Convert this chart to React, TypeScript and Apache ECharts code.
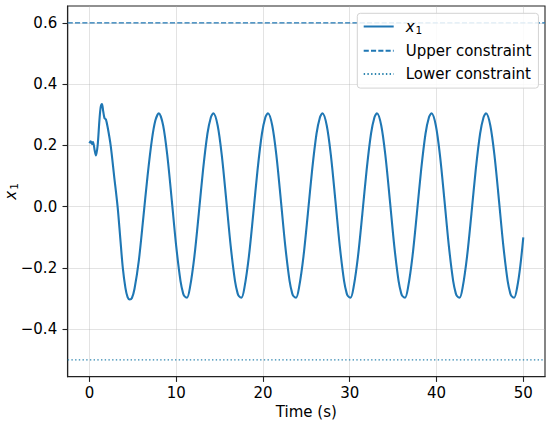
import React, { useEffect, useRef } from "react";
import * as echarts from "echarts";

// time samples (s)
const timeS = [
  0, 0.15, 0.3, 0.42, 0.6, 0.75, 0.95, 1.15, 1.3, 1.45, 1.6, 1.75, 1.9, 2.1, 2.45, 2.85, 3.25, 3.55, 3.85, 4.15, 4.4, 4.65, 4.9,
  5.2, 5.7, 6.2, 6.7, 7.2, 7.6,
  8.0, 8.5, 9.0, 9.5, 10.0, 10.5, 10.8, 10.95, 11.25, 11.6, 12.1, 12.6, 13.1, 13.6, 14.0,
  14.28, 14.78, 15.28, 15.78, 16.28, 16.78, 17.08, 17.23, 17.53, 17.88, 18.38, 18.88, 19.38, 19.88, 20.28,
  20.57, 21.07, 21.57, 22.07, 22.57, 23.07, 23.37, 23.52, 23.82, 24.17, 24.67, 25.17, 25.67, 26.17, 26.57,
  26.85, 27.35, 27.85, 28.35, 28.85, 29.35, 29.65, 29.8, 30.1, 30.45, 30.95, 31.45, 31.95, 32.45, 32.85,
  33.13, 33.63, 34.13, 34.63, 35.13, 35.63, 35.93, 36.08, 36.38, 36.73, 37.23, 37.73, 38.23, 38.73, 39.13,
  39.42, 39.92, 40.42, 40.92, 41.42, 41.92, 42.22, 42.37, 42.67, 43.02, 43.52, 44.02, 44.52, 45.02, 45.42,
  45.7, 46.2, 46.7, 47.2, 47.7, 48.2, 48.5, 48.65, 48.95, 49.3, 49.65, 50.0,
];

// x1 state values
const x1Values = [
  0.207, 0.213, 0.205, 0.211, 0.185, 0.167, 0.2, 0.28, 0.325, 0.335, 0.31, 0.288, 0.285, 0.26, 0.2, 0.1, 0.0, -0.1, -0.2, -0.265, -0.295, -0.303, -0.298,
  -0.268, -0.175, -0.04, 0.1, 0.218, 0.281,
  0.305, 0.265, 0.162, 0.019, -0.128, -0.243, -0.283, -0.292, -0.297, -0.262, -0.162, -0.024, 0.121, 0.238, 0.292,
  0.305, 0.265, 0.162, 0.019, -0.128, -0.243, -0.283, -0.292, -0.297, -0.262, -0.162, -0.024, 0.121, 0.238, 0.292,
  0.305, 0.265, 0.162, 0.019, -0.128, -0.243, -0.283, -0.292, -0.297, -0.262, -0.162, -0.024, 0.121, 0.238, 0.292,
  0.305, 0.265, 0.162, 0.019, -0.128, -0.243, -0.283, -0.292, -0.297, -0.262, -0.162, -0.024, 0.121, 0.238, 0.292,
  0.305, 0.265, 0.162, 0.019, -0.128, -0.243, -0.283, -0.292, -0.297, -0.262, -0.162, -0.024, 0.121, 0.238, 0.292,
  0.305, 0.265, 0.162, 0.019, -0.128, -0.243, -0.283, -0.292, -0.297, -0.262, -0.162, -0.024, 0.121, 0.238, 0.292,
  0.305, 0.265, 0.162, 0.019, -0.128, -0.243, -0.283, -0.292, -0.297, -0.262, -0.195, -0.1,
];

const upperConstraint = 0.6;
const lowerConstraint = -0.5;
const xRange = [-2.5, 52.5];
const yRange = [-0.555, 0.655];
const xTicks = [0, 10, 20, 30, 40, 50];
const yTicks = [-0.4, -0.2, 0, 0.2, 0.4, 0.6];
const seriesNames = ["x1", "Upper constraint", "Lower constraint"];

const FONT = "DejaVu Sans";
const BLUE = "#1f77b4";
const FS = 15;

const fmtY = (v: number) => {
  const s = Math.abs(v) < 1e-9 ? "0.0" : v.toFixed(1);
  return s.replace("-", "\u2212");
};

export default function App() {
  const ref = useRef<HTMLDivElement>(null);
  useEffect(() => {
    if (!ref.current) return;
    const chart = echarts.init(ref.current, undefined, { renderer: "svg" });
    const mathRich = {
      i: { fontFamily: FONT, fontStyle: "italic", fontSize: FS, lineHeight: 15, color: "#000" },
      s: { fontFamily: FONT, fontSize: 10.5, lineHeight: 15, padding: [6, 0, 0, 1], color: "#000" },
    };
    const axisCommon = {
      axisLine: { show: true, onZero: false, lineStyle: { color: "#222", width: 1.1 } },
      axisTick: { show: true, inside: false, length: 5.2, lineStyle: { color: "#222", width: 1.1 } },
      splitLine: { show: true, lineStyle: { color: "#b0b0b0", opacity: 0.35, width: 1 } },
    };
    chart.setOption({
      animation: false,
      backgroundColor: "#fff",
      grid: {
        left: 67.7,
        right: 5,
        top: 6,
        bottom: 47.3,
        show: true,
        borderColor: "#222",
        borderWidth: 1.1,
        containLabel: false,
        outerBoundsMode: "none",
      },
      xAxis: {
        type: "value",
        min: xRange[0],
        max: xRange[1],
        name: "Time (s)",
        nameLocation: "middle",
        nameGap: 28,
        nameMoveOverlap: false,
        nameTextStyle: { fontFamily: FONT, fontSize: FS, color: "#000" },
        ...axisCommon,
        axisTick: { ...axisCommon.axisTick, customValues: xTicks },
        axisLabel: {
          customValues: xTicks,
          fontFamily: FONT,
          fontSize: FS,
          color: "#000",
          margin: 9,
          formatter: (v: number) => String(v),
        },
      },
      yAxis: {
        type: "value",
        min: yRange[0],
        max: yRange[1],
        name: "{i|x}{s|1}",
        nameLocation: "middle",
        nameRotate: 90,
        nameGap: 49,
        nameMoveOverlap: false,
        nameTextStyle: { rich: mathRich },
        ...axisCommon,
        axisTick: { ...axisCommon.axisTick, customValues: yTicks },
        axisLabel: {
          customValues: yTicks,
          fontFamily: FONT,
          fontSize: FS,
          color: "#000",
          margin: 10.5,
          formatter: (v: number) => fmtY(v),
        },
      },
      legend: {
        orient: "vertical",
        left: 357.3,
        top: 13.3,
        padding: [4.7, 7, 6.5, 5.4],
        itemWidth: 30,
        itemHeight: 14,
        itemGap: 8.3,
        backgroundColor: "rgba(255,255,255,0.85)",
        borderColor: "#d3d3d3",
        borderWidth: 1,
        borderRadius: 3,
        data: seriesNames,
        itemStyle: { opacity: 0 },
        formatter: (name: string) => (name === "x1" ? "{i|x}{s|1}" : name),
        textStyle: {
          fontFamily: FONT,
          fontSize: FS,
          lineHeight: 14,
          color: "#000",
          padding: [0, 0, 0, 7],
          rich: mathRich,
        },
        z: 10,
      },
      series: [
        {
          name: seriesNames[0],
          type: "line",
          data: timeS.map((t, i) => [t, x1Values[i]]),
          showSymbol: false,
          symbol: "none",
          smooth: 0.3,
          lineStyle: { color: BLUE, width: 2.1 },
          itemStyle: { color: BLUE },
          z: 3,
        },
        {
          name: seriesNames[1],
          type: "line",
          data: [
            [xRange[0], upperConstraint],
            [xRange[1], upperConstraint],
          ],
          showSymbol: false,
          symbol: "none",
          lineStyle: { color: BLUE, width: 1.4, type: [5.1, 2.2] },
          itemStyle: { color: BLUE },
          z: 2,
        },
        {
          name: seriesNames[2],
          type: "line",
          data: [
            [xRange[0], lowerConstraint],
            [xRange[1], lowerConstraint],
          ],
          showSymbol: false,
          symbol: "none",
          lineStyle: { color: "#2f86b0", width: 1.4, type: [1.4, 2.3] },
          itemStyle: { color: "#2f86b0" },
          z: 2,
        },
      ],
    });
    return () => chart.dispose();
  }, []);
  return (
    <div
      ref={ref}
      style={{ position: "fixed", left: 0, top: 0, width: 550, height: 424, background: "#fff" }}
    />
  );
}
